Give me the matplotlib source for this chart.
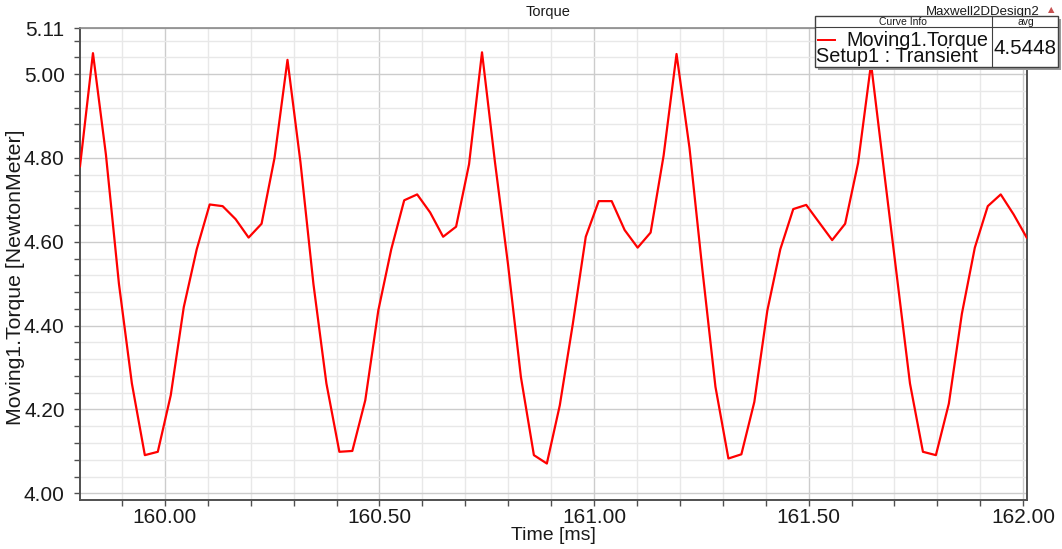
import matplotlib
matplotlib.use("Agg")
import matplotlib.pyplot as plt
from matplotlib.patches import Rectangle
from matplotlib.lines import Line2D
from matplotlib.ticker import MultipleLocator

plt.rcParams['font.family'] = ['Liberation Sans', 'DejaVu Sans']

# transient solver samples, time in ms
time_ms = [
    159.8021, 159.8323, 159.8625, 159.8928, 159.9230, 159.9532, 159.9834, 160.0136,
    160.0439, 160.0741, 160.1043, 160.1345, 160.1647, 160.1950, 160.2252, 160.2554,
    160.2856, 160.3158, 160.3461, 160.3763, 160.4065, 160.4367, 160.4669, 160.4972,
    160.5274, 160.5576, 160.5878, 160.6180, 160.6483, 160.6785, 160.7087, 160.7389,
    160.7691, 160.7994, 160.8296, 160.8598, 160.8900, 160.9202, 160.9505, 160.9807,
    161.0109, 161.0411, 161.0713, 161.1016, 161.1318, 161.1620, 161.1922, 161.2224,
    161.2527, 161.2829, 161.3131, 161.3433, 161.3735, 161.4038, 161.4340, 161.4642,
    161.4944, 161.5246, 161.5549, 161.5851, 161.6153, 161.6455, 161.6757, 161.7060,
    161.7362, 161.7664, 161.7966, 161.8268, 161.8571, 161.8873, 161.9175, 161.9477,
    161.9779, 162.0082,
]
torque_nm = [
    4.780, 5.050, 4.808, 4.500, 4.262, 4.091, 4.099, 4.234,
    4.444, 4.582, 4.689, 4.685, 4.654, 4.610, 4.643, 4.800,
    5.034, 4.790, 4.499, 4.262, 4.099, 4.101, 4.222, 4.436,
    4.582, 4.699, 4.713, 4.670, 4.612, 4.636, 4.785, 5.052,
    4.790, 4.547, 4.277, 4.091, 4.071, 4.210, 4.404, 4.612,
    4.697, 4.697, 4.628, 4.586, 4.622, 4.805, 5.048, 4.824,
    4.531, 4.254, 4.083, 4.093, 4.218, 4.436, 4.582, 4.678,
    4.688, 4.646, 4.604, 4.643, 4.788, 5.025, 4.769, 4.515,
    4.262, 4.099, 4.091, 4.214, 4.428, 4.586, 4.685, 4.713,
    4.665, 4.610,
]
y_ticks = [4.00, 4.20, 4.40, 4.60, 4.80, 5.00, 5.11]
x_ticks = [160.00, 160.50, 161.00, 161.50, 162.00]
avg_torque = "4.5448"

W, H = 1062, 549
fig = plt.figure(figsize=(W / 100, H / 100), dpi=100)
ax = fig.add_axes([80 / W, 1 - 500 / H, 946.7 / W, 472 / H])

ax.plot(time_ms, torque_nm, color='#ff0000', lw=1.6, zorder=3)
ax.set_xlim(time_ms[0], time_ms[-1])
ax.set_ylim(3.984, 5.11)

# grid: light every 0.1 ms / 0.04 Nm, darker on the labelled values
ax.xaxis.set_minor_locator(MultipleLocator(0.1))
ax.yaxis.set_minor_locator(MultipleLocator(0.04))
ax.set_xticks(x_ticks)
ax.set_xticklabels([f"{v:.2f}" for v in x_ticks])
ax.set_yticks(y_ticks)
ax.set_yticklabels([f"{v:.2f}" for v in y_ticks])
ax.grid(which='minor', color='#e8e8e8', lw=1.0, zorder=0)
ax.grid(which='major', color='#cccccc', lw=1.0, zorder=0)

ax.tick_params(which='both', direction='out', color='#505050', length=4,
               width=1, labelsize=15, labelcolor='#1a1a1a')
ax.tick_params(axis='x', pad=2)
ax.tick_params(axis='y', pad=7)
for side in ['left', 'bottom', 'right']:
    ax.spines[side].set_color('#505050')
    ax.spines[side].set_linewidth(1.4)
ax.spines['top'].set_color('#8a8a8a')
ax.spines['top'].set_linewidth(1.2)

ax.set_ylabel('Moving1.Torque [NewtonMeter]', fontsize=15.3, color='#1a1a1a')
ax.yaxis.set_label_coords(-0.0683, 0.4725)
ax.yaxis.label.set_va('center')
ax.set_xlabel('Time [ms]', fontsize=14, color='#1a1a1a')
ax.xaxis.set_label_coords(0.5006, -0.0742)
ax.xaxis.label.set_va('center')

# header texts
fig.text(548 / W, 1 - 12 / H, 'Torque', ha='center', va='center', fontsize=10.5, color='#1a1a1a')
fig.text(1040 / W, 1 - 12 / H, 'Maxwell2DDesign2', ha='right', va='center', fontsize=9.5, color='#1a1a1a')
fig.text(1051 / W, 1 - 10 / H, '\u25b2', ha='center', va='center', fontsize=6, color='#c85050',
         family='DejaVu Sans')

# curve info box drawn in pixel coordinates on top of everything
ov = fig.add_axes([0, 0, 1, 1], zorder=10)
ov.set_xlim(0, W)
ov.set_ylim(H, 0)
ov.axis('off')
ov.patch.set_alpha(0)
ov.add_patch(Rectangle((818, 19), 243, 51, facecolor='#9a9a9a', edgecolor='none'))
ov.add_patch(Rectangle((815, 16), 243, 51, facecolor='white', edgecolor='#404040', lw=1.0))
ov.add_line(Line2D([815, 1058], [27, 27], color='#404040', lw=0.8))
ov.add_line(Line2D([992, 992], [16, 67], color='#404040', lw=0.8))
ov.text(903, 22, 'Curve Info', ha='center', va='center', fontsize=7.5, color='#1a1a1a')
ov.text(1026, 22, 'avg', ha='center', va='center', fontsize=7.5, color='#1a1a1a')
ov.add_line(Line2D([818, 835], [40, 40], color='#ff0000', lw=1.4))
ov.text(846, 40, 'Moving1.Torque', ha='left', va='center', fontsize=14.3, color='#111111')
ov.text(816, 57, 'Setup1 : Transient', ha='left', va='center', fontsize=14.3, color='#111111')
ov.text(1025, 48, avg_torque, ha='center', va='center', fontsize=14.8, color='#111111')

fig.savefig('out.png', dpi=100, facecolor='white')
